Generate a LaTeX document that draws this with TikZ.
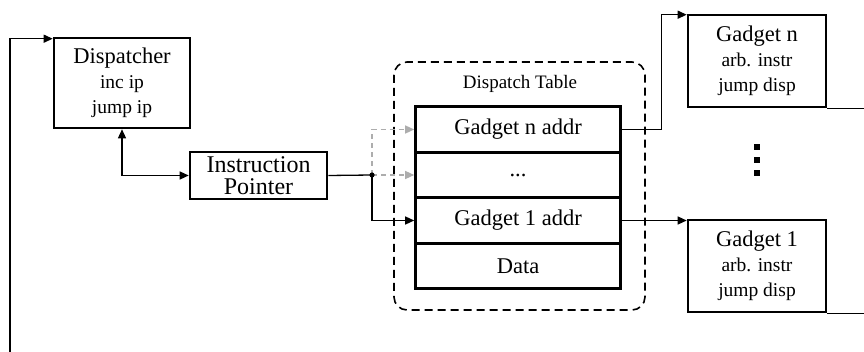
\documentclass[tikz,border=0pt]{standalone}
\usepackage{fontspec}
\setmainfont{Liberation Serif}
\usetikzlibrary{arrows.meta}
\newcommand{\bigtxt}{\fontsize{22.5}{25}\selectfont}
\newcommand{\smalltxt}{\fontsize{19.5}{25}\selectfont}
\tikzset{
  box/.style={draw, line width=2.6pt, rectangle, inner sep=0pt, align=center},
  rowbox/.style={box, minimum width=205pt, minimum height=45.5pt, font=\bigtxt},
  conn/.style={line width=1.3pt},
  tipped/.style={-{Triangle[length=9pt,width=8pt]}},
  ghost/.style={line width=1.3pt, color=black!32, dash pattern=on 5pt off 4pt,
    -{Triangle[length=9pt,width=8pt]}},
  frame/.style={draw, line width=1.6pt, dash pattern=on 8pt off 5pt, rounded corners=13pt}
}
\begin{document}
\begin{tikzpicture}[x=1pt,y=-1pt]
\useasboundingbox (0,0) rectangle (864,352);

% dispatcher and instruction pointer
\node[box, minimum width=136pt, minimum height=90pt, font=\smalltxt] (disp) at (122,83)
  {{\bigtxt Dispatcher}\\inc ip\\jump ip};
\node[box, minimum width=137pt, minimum height=47pt,
  font=\fontsize{24}{25}\selectfont] (ip) at (258.5,175.5)
  {Instruction\\[-3pt]Pointer};

% dispatch table
\draw[frame] (394,62) rectangle (645,310);
\node[font=\fontsize{19}{20}\selectfont] (title) at (520,84) {Dispatch Table};
\node[rowbox] (row1) at (518,129.5) {Gadget n addr};
\node[rowbox] (row2) at (518,175) {...};
\node[rowbox] (row3) at (518,220.5) {Gadget 1 addr};
\node[rowbox] (row4) at (518,266) {Data};

% gadgets
\node[box, minimum width=138pt, minimum height=92pt, font=\smalltxt] (gn) at (757,61)
  {{\bigtxt Gadget n}\\arb. instr\\jump disp};
\node[box, minimum width=138pt, minimum height=92pt, font=\smalltxt] (g1) at (757,266)
  {{\bigtxt Gadget 1}\\arb. instr\\jump disp};

% vertical ellipsis between the gadgets
\foreach \yy in {147,160,173}
  \fill (757,\yy) ++(-3,-3) rectangle ++(6,6);

% free ends of the loop lines
\coordinate (loopL) at (10,352);
\coordinate (edgeR) at (864,0);
\coordinate (j) at (372,175);

% connectors
\draw[conn, tipped] (loopL) |- ([yshift=-2pt]disp.north west);
\draw[conn, {Triangle[length=9pt,width=8pt]}-{Triangle[length=9pt,width=8pt]}]
  (disp.south) |- (ip.west);
\draw[ghost] (j) -- (row2.west);
\draw[ghost] (j) |- (row1.west);
\draw[conn] (ip.east) -- (j);
\draw[conn, tipped] (j) |- (row3.west);
\fill (j) circle (2.6pt);
\draw[conn, tipped] (row1.east) -| ([xshift=-25pt,yshift=-1pt]gn.north west)
  -- ([yshift=-1pt]gn.north west);
\draw[conn, tipped] (row3.east) -- (row3.east -| g1.west);
\draw[conn] (gn.south east) -- (gn.south east -| edgeR);
\draw[conn] (g1.south east) -- (g1.south east -| edgeR);
\end{tikzpicture}
\end{document}
